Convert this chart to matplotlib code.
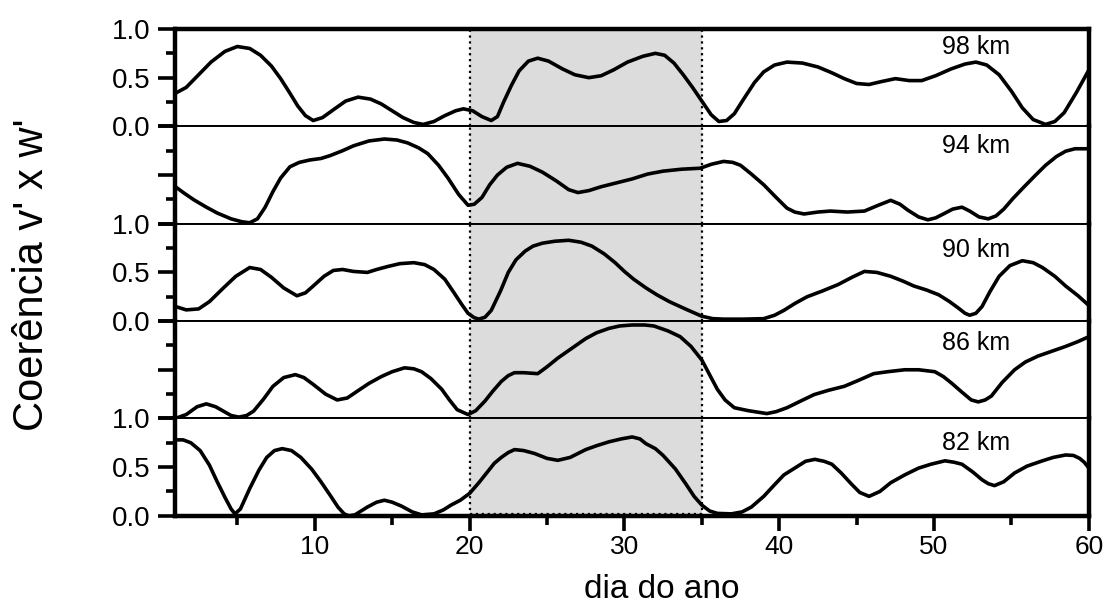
import numpy as np
import matplotlib
matplotlib.use("Agg")
import matplotlib.pyplot as plt
from matplotlib.ticker import MultipleLocator, FixedLocator

plt.rcParams['font.family'] = ['Liberation Sans', 'DejaVu Sans']

# coherence v' x w' per altitude: day of year and value
day_98 = [1, 1.7, 2.5, 3.3, 4.2, 5.0, 5.8, 6.5, 7.2, 7.8, 8.4, 8.9, 9.4, 9.9, 10.5, 11.2, 12.0,
          12.8, 13.6, 14.3, 15.0, 15.7, 16.4, 17.0, 17.7, 18.4, 19.1, 19.6, 20.2, 20.8, 21.4,
          21.8, 22.2, 22.7, 23.2, 23.8, 24.4, 25.1, 26.0, 26.8, 27.7, 28.5, 29.3, 30.2, 31.2,
          32.0, 32.6, 33.2, 33.8, 34.4, 35.0, 35.6, 36.1, 36.6, 37.1, 37.7, 38.4, 39.0, 39.7,
          40.5, 41.5, 42.5, 43.4, 44.2, 45.0, 45.8, 46.6, 47.5, 48.4, 49.2, 50.1, 51.1, 52.0,
          52.7, 53.4, 54.2, 55.0, 55.7, 56.4, 57.2, 57.8, 58.4, 59.2, 60]
coh_98 = [0.34, 0.40, 0.53, 0.66, 0.77, 0.82, 0.80, 0.73, 0.62, 0.49, 0.34, 0.21, 0.11, 0.06, 0.09,
          0.17, 0.26, 0.30, 0.28, 0.23, 0.16, 0.09, 0.04, 0.02, 0.05, 0.11, 0.16, 0.18, 0.16, 0.10,
          0.06, 0.10, 0.25, 0.42, 0.57, 0.67, 0.70, 0.67, 0.59, 0.53, 0.50, 0.52, 0.58, 0.66, 0.72,
          0.75, 0.73, 0.65, 0.53, 0.40, 0.26, 0.12, 0.05, 0.06, 0.13, 0.28, 0.45, 0.56, 0.63, 0.66,
          0.65, 0.61, 0.55, 0.49, 0.44, 0.43, 0.46, 0.49, 0.47, 0.47, 0.52, 0.59, 0.64, 0.66, 0.63,
          0.53, 0.36, 0.19, 0.07, 0.02, 0.05, 0.14, 0.35, 0.58]

day_94 = [1, 1.6, 2.2, 3.0, 3.7, 4.6, 5.3, 5.8, 6.3, 6.8, 7.3, 7.8, 8.4, 9.0, 9.7, 10.4, 11.0,
          11.8, 12.5, 13.5, 14.5, 15.3, 16.0, 16.7, 17.3, 18.0, 18.6, 19.3, 19.9, 20.3, 20.8,
          21.3, 21.8, 22.4, 23.1, 23.9, 24.7, 25.6, 26.4, 27.0, 27.7, 28.5, 29.5, 30.5, 31.5,
          32.5, 33.7, 34.9, 35.6, 36.4, 37.0, 37.5, 38.2, 39.0, 39.8, 40.5, 41.0, 41.6, 42.5,
          43.3, 44.4, 45.5, 46.4, 47.2, 47.8, 48.3, 49.0, 49.6, 50.1, 50.6, 51.2, 51.8, 52.3,
          52.9, 53.5, 54.0, 54.5, 55.1, 55.7, 56.5, 57.2, 57.9, 58.5, 59.1, 60]
coh_94 = [0.38, 0.31, 0.245, 0.17, 0.11, 0.05, 0.02, 0.01, 0.05, 0.17, 0.33, 0.47, 0.585, 0.63,
          0.655, 0.67, 0.70, 0.75, 0.80, 0.85, 0.87, 0.86, 0.83, 0.78, 0.72, 0.60, 0.47, 0.30,
          0.19, 0.20, 0.27, 0.40, 0.50, 0.58, 0.62, 0.59, 0.53, 0.44, 0.35, 0.32, 0.34, 0.38,
          0.42, 0.46, 0.51, 0.54, 0.56, 0.57, 0.61, 0.64, 0.63, 0.60, 0.51, 0.40, 0.27, 0.16,
          0.12, 0.10, 0.12, 0.13, 0.12, 0.13, 0.19, 0.24, 0.20, 0.14, 0.07, 0.04, 0.06, 0.10,
          0.15, 0.17, 0.13, 0.07, 0.05, 0.08, 0.15, 0.26, 0.36, 0.49, 0.60, 0.69, 0.745, 0.77,
          0.77]

day_90 = [1, 1.7, 2.5, 3.2, 4.1, 4.9, 5.8, 6.5, 7.2, 8.0, 8.85, 9.4, 9.9, 10.6, 11.2, 11.8,
          12.5, 13.4, 14.0, 14.7, 15.5, 16.4, 17.1, 17.7, 18.4, 19.0, 19.5, 19.9, 20.3, 20.6,
          21.0, 21.4, 22.0, 22.5, 23.0, 23.6, 24.1, 24.7, 25.5, 26.4, 27.2, 27.9, 28.7, 29.4,
          30.0, 30.6, 31.4, 32.1, 32.9, 34.0, 35.0, 35.7, 36.4, 37.7, 39.0, 39.7, 40.3, 41.0,
          41.8, 42.8, 43.8, 44.7, 45.5, 46.3, 47.2, 48.0, 48.7, 49.5, 50.3, 51.0, 51.6, 52.0,
          52.3, 52.7, 53.1, 53.6, 54.2, 54.9, 55.7, 56.4, 57.0, 57.8, 58.5, 59.3, 60]
coh_90 = [0.15, 0.115, 0.125, 0.20, 0.34, 0.46, 0.55, 0.53, 0.45, 0.34, 0.26, 0.29, 0.36, 0.46,
          0.52, 0.53, 0.51, 0.50, 0.53, 0.56, 0.59, 0.60, 0.58, 0.53, 0.43, 0.29, 0.17, 0.08,
          0.035, 0.02, 0.04, 0.11, 0.31, 0.50, 0.63, 0.72, 0.77, 0.80, 0.82, 0.83, 0.81, 0.77,
          0.69, 0.60, 0.51, 0.43, 0.34, 0.27, 0.20, 0.12, 0.05, 0.025, 0.02, 0.02, 0.025, 0.06,
          0.11, 0.18, 0.25, 0.31, 0.375, 0.45, 0.51, 0.50, 0.46, 0.41, 0.36, 0.32, 0.27, 0.20,
          0.13, 0.08, 0.06, 0.08, 0.15, 0.30, 0.46, 0.57, 0.62, 0.60, 0.55, 0.46, 0.36, 0.26,
          0.16]

day_86 = [1, 1.7, 2.4, 3.0, 3.6, 4.1, 4.6, 5.1, 5.6, 6.05, 6.7, 7.3, 8.0, 8.75, 9.3, 9.9, 10.7,
          11.45, 12.1, 12.75, 13.5, 14.3, 15.0, 15.8, 16.4, 16.9, 17.5, 18.2, 18.7, 19.2, 19.9,
          20.4, 21.0, 21.5, 22.05, 22.5, 22.9, 23.5, 24.4, 25.0, 25.7, 26.6, 27.5, 28.2, 29.0,
          29.7, 30.5, 31.3, 31.9, 32.8, 33.6, 34.3, 35.0, 35.5, 36.0, 36.5, 37.1, 38.0, 39.2,
          39.8, 40.5, 41.4, 42.25, 43.2, 44.2, 45.1, 46.1, 47.0, 48.1, 49.0, 50.05, 50.6, 51.15,
          51.8, 52.4, 52.85, 53.3, 53.7, 54.4, 55.2, 55.9, 56.7, 57.6, 58.5, 59.3, 60]
coh_86 = [0.0, 0.04, 0.12, 0.15, 0.12, 0.075, 0.03, 0.014, 0.03, 0.075, 0.20, 0.33, 0.42, 0.45,
          0.42, 0.35, 0.25, 0.19, 0.21, 0.28, 0.36, 0.43, 0.48, 0.52, 0.51, 0.48, 0.41, 0.30,
          0.19, 0.09, 0.04, 0.08, 0.18, 0.28, 0.38, 0.44, 0.47, 0.47, 0.46, 0.53, 0.62, 0.72,
          0.82, 0.88, 0.925, 0.95, 0.96, 0.96, 0.95, 0.90, 0.84, 0.74, 0.60, 0.45, 0.30, 0.19,
          0.11, 0.08, 0.05, 0.07, 0.11, 0.18, 0.245, 0.29, 0.33, 0.39, 0.46, 0.48, 0.50, 0.50,
          0.48, 0.43, 0.36, 0.27, 0.19, 0.17, 0.19, 0.23, 0.37, 0.50, 0.58, 0.64, 0.69, 0.74,
          0.79, 0.84]

day_82 = [1, 1.5, 2.0, 2.6, 3.2, 3.7, 4.2, 4.6, 4.85, 5.2, 5.8, 6.4, 6.9, 7.4, 7.9, 8.5, 9.1,
          9.8, 10.4, 11.0, 11.5, 11.9, 12.2, 12.6, 13.0, 13.4, 14.0, 14.5, 15.0, 15.6, 16.3,
          16.9, 17.7, 18.3, 18.8, 19.4, 20.0, 20.6, 21.2, 21.6, 22.05, 22.5, 22.9, 23.5, 24.2,
          25.0, 25.7, 26.5, 27.5, 28.2, 29.0, 29.8, 30.5, 31.0, 31.4, 32.0, 32.5, 33.3, 34.0,
          34.5, 35.0, 35.5, 36.0, 36.9, 37.6, 38.2, 39.0, 39.7, 40.3, 41.0, 41.7, 42.3, 42.9,
          43.4, 44.0, 44.7, 45.2, 45.8, 46.5, 47.2, 48.1, 49.0, 49.8, 50.7, 51.3, 51.8, 52.5,
          53.1, 53.5, 53.9, 54.5, 55.2, 56.0, 57.0, 57.7, 58.5, 59.0, 59.4, 59.7, 60]
coh_82 = [0.78, 0.78, 0.75, 0.67, 0.52, 0.35, 0.19, 0.07, 0.02, 0.07, 0.28, 0.47, 0.60, 0.67,
          0.69, 0.67, 0.60, 0.48, 0.35, 0.21, 0.09, 0.02, 0.0, 0.01, 0.05, 0.09, 0.14, 0.16, 0.14,
          0.10, 0.04, 0.01, 0.02, 0.06, 0.11, 0.16, 0.23, 0.34, 0.46, 0.54, 0.60, 0.65, 0.68,
          0.67, 0.64, 0.59, 0.57, 0.60, 0.68, 0.72, 0.76, 0.79, 0.81, 0.79, 0.74, 0.69, 0.62,
          0.48, 0.32, 0.20, 0.11, 0.05, 0.025, 0.02, 0.04, 0.09, 0.20, 0.32, 0.42, 0.49, 0.56,
          0.58, 0.56, 0.53, 0.44, 0.32, 0.24, 0.20, 0.25, 0.34, 0.42, 0.49, 0.53, 0.565, 0.55,
          0.53, 0.45, 0.37, 0.33, 0.31, 0.35, 0.44, 0.51, 0.565, 0.60, 0.625, 0.62, 0.59, 0.55,
          0.49]

panels = [("98 km", day_98, coh_98), ("94 km", day_94, coh_94), ("90 km", day_90, coh_90),
          ("86 km", day_86, coh_86), ("82 km", day_82, coh_82)]
label_y = [0.82, 0.80, 0.73, 0.77, 0.75]
window = (20, 35)

fig, axes = plt.subplots(5, 1, sharex=True, figsize=(11.1, 6.04), dpi=100,
                         gridspec_kw={'hspace': 0})
fig.subplots_adjust(left=0.158, right=0.981, top=0.952, bottom=0.146)

thick = 3.2
thin = 1.4
for i, (ax, (name, d, c)) in enumerate(zip(axes, panels)):
    ax.axvspan(window[0], window[1], color='#dcdcdc', zorder=0, lw=0)
    for xv in window:
        ax.axvline(xv, color='black', ls=':', lw=1.6, zorder=1)
    ax.plot(d, c, color='black', lw=2.6, solid_joinstyle='round', solid_capstyle='round', zorder=3)
    ax.text(52.7, label_y[i], name, ha='center', va='center', fontsize=18, zorder=4)
    ax.set_xlim(1, 60)
    ax.set_ylim(0, 1)

    ax.spines['left'].set_linewidth(thick)
    ax.spines['right'].set_linewidth(thick)
    ax.spines['top'].set_linewidth(thick if i == 0 else thin)
    ax.spines['bottom'].set_linewidth(thick if i == 4 else thin)

    ax.yaxis.set_major_locator(FixedLocator([0, 0.5, 1.0]))
    ax.yaxis.set_minor_locator(FixedLocator([0.25, 0.75]))
    ax.tick_params(axis='y', which='major', direction='out', length=12, width=2.6,
                   labelsize=20, pad=6)
    ax.tick_params(axis='y', which='minor', direction='out', length=6.5, width=2.6)
    if i in (0, 2, 4):
        ax.set_yticklabels(['0.0', '0.5', '1.0'])
    else:
        ax.set_yticklabels([])
    ax.tick_params(axis='x', which='both', bottom=(i == 4), top=False, labelbottom=(i == 4))

ax = axes[-1]
ax.hlines(0.015, window[0], window[1], color='black', ls=':', lw=1.6, zorder=1)
ax.xaxis.set_major_locator(FixedLocator([10, 20, 30, 40, 50, 60]))
ax.xaxis.set_minor_locator(MultipleLocator(5))
ax.tick_params(axis='x', which='major', direction='out', length=11, width=2.6,
               labelsize=19, pad=3)
ax.tick_params(axis='x', which='minor', direction='out', length=6.5, width=2.6)
ax.set_xlabel('dia do ano', fontsize=24, labelpad=0)
ax.xaxis.set_label_coords(0.532, -0.845)
ax.xaxis.label.set_va('baseline')

fig.text(0.029, 0.545, "Coerência v' x w'", rotation=90, ha='center', va='center', fontsize=30)

plt.savefig('out.png', dpi=100)
